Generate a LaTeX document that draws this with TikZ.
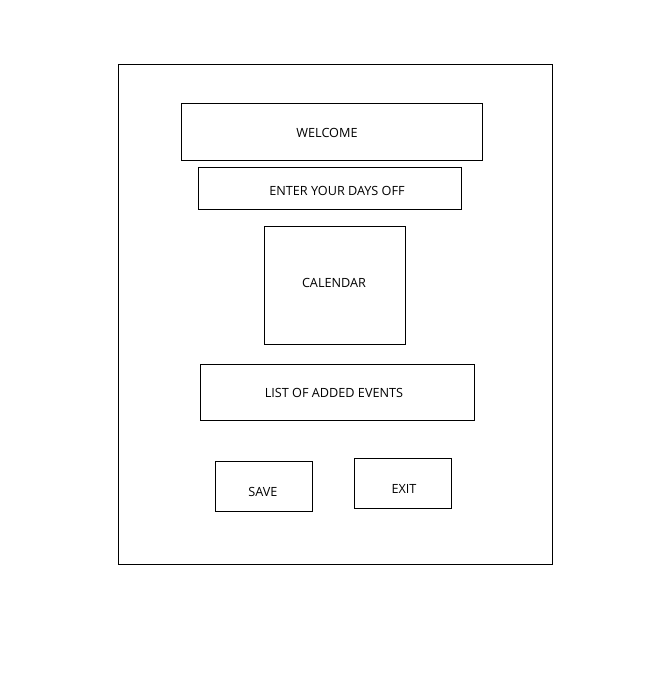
\documentclass[tikz,border=0pt]{standalone}
\usepackage{fontspec}
\setmainfont{Open Sans}
\begin{document}
\begin{tikzpicture}[x=0.75pt,y=-0.75pt,
  box/.style={draw=black,line width=0.75pt,fill=white,inner sep=0pt,outer sep=0pt},
  lbl/.style={inner sep=0pt,font=\fontsize{9.5}{11}\selectfont}]
\useasboundingbox (0,0) rectangle (661,683);
\fill[white] (0,0) rectangle (661,683);
\draw[line width=0.75pt] (118.5,64.5) rectangle (552.5,564.5);
\node[box,minimum width=301*0.75pt,minimum height=57*0.75pt] (welcome) at (331.5,131.5) {};
\node[lbl] (welcomet) at (327,133) {WELCOME};
\node[box,minimum width=263*0.75pt,minimum height=42*0.75pt] (enter) at (329.5,188) {};
\node[lbl] (entert) at (337,191) {ENTER YOUR DAYS OFF};
\node[box,minimum width=141*0.75pt,minimum height=118*0.75pt] (cal) at (334.5,285) {};
\node[lbl] (calt) at (334,283) {CALENDAR};
\node[box,minimum width=274*0.75pt,minimum height=56*0.75pt] (list) at (337,392) {};
\node[lbl] (listt) at (334,393) {LIST OF ADDED EVENTS};
\node[box,minimum width=97*0.75pt,minimum height=50*0.75pt] (save) at (263.5,486) {};
\node[lbl] (savet) at (263,492) {SAVE};
\node[box,minimum width=97*0.75pt,minimum height=50*0.75pt] (exit) at (402.5,483) {};
\node[lbl] (exitt) at (404,489) {EXIT};
\end{tikzpicture}
\end{document}
